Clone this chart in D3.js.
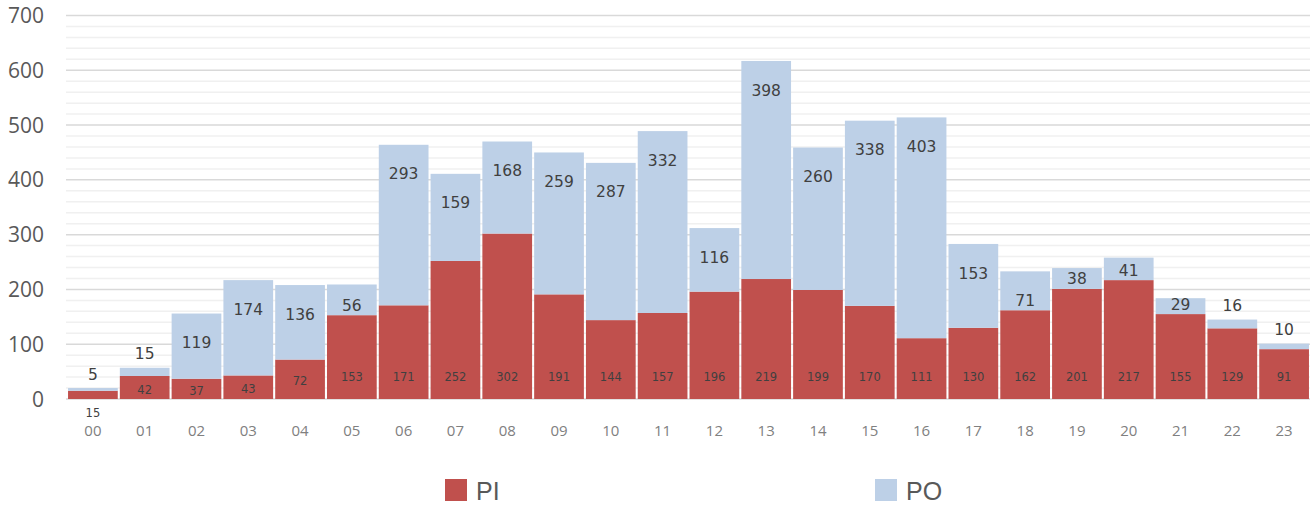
<!DOCTYPE html>
<meta charset="utf-8">
<style>
  body { margin: 0; background: #fff; }
  .grid-minor { stroke: #f0f0f0; stroke-width: 1.5px; }
  .grid-major { stroke: #d9d9d9; stroke-width: 1.5px; }
  .ylab { font: 21px "Open Sans", sans-serif; fill: #595959; }
  .xlab { font: 15px "Open Sans", sans-serif; fill: #808080; }
  .lbl-po { font: 15.5px "DejaVu Sans", sans-serif; fill: #404040; }
  .lbl-pi { font: 11.5px "DejaVu Sans", sans-serif; fill: #404040; }
  .legend text { font: 25px "Liberation Sans", sans-serif; fill: #595959; }
</style>
<body>
<script src="https://d3js.org/d3.v7.min.js"></script>
<script>

  // hours on the x axis
  var hours = ["00","01","02","03","04","05","06","07","08","09","10","11",
               "12","13","14","15","16","17","18","19","20","21","22","23"];
  // series values
  var PI = [15,42,37,43,72,153,171,252,302,191,144,157,196,219,199,170,111,130,162,201,217,155,129,91];
  var PO = [5,15,119,174,136,56,293,159,168,259,287,332,116,398,260,338,403,153,71,38,41,29,16,10];
  var seriesNames = ["PI", "PO"];
  var colors = ["#c0504d", "#bdd0e7"];
  var yTicks = [0,100,200,300,400,500,600,700];

  var rows = hours.map(function (h, i) { return { hour: h, PI: PI[i], PO: PO[i] }; });

  var W = 1316, H = 506;
  var margin = { top: 15.5, right: 6, bottom: 107, left: 67 };

  var svg = d3.select("body").append("svg")
    .attr("width", W).attr("height", H);

  var x = d3.scaleBand()
    .domain(hours)
    .range([margin.left, W - margin.right])
    .paddingInner(0.04)
    .paddingOuter(0.02);

  var y = d3.scaleLinear()
    .domain([0, 700])
    .range([H - margin.bottom, margin.top]);

  // minor gridlines every 20
  svg.append("g").selectAll("line")
    .data(d3.range(0, 701, 20).filter(function (v) { return v % 100 !== 0; }))
    .enter().append("line")
    .attr("class", "grid-minor")
    .attr("x1", margin.left - 1).attr("x2", W - margin.right)
    .attr("y1", function (d) { return y(d); }).attr("y2", function (d) { return y(d); });

  // major gridlines
  svg.append("g").selectAll("line")
    .data(yTicks)
    .enter().append("line")
    .attr("class", "grid-major")
    .attr("x1", margin.left - 1).attr("x2", W - margin.right)
    .attr("y1", function (d) { return y(d); }).attr("y2", function (d) { return y(d); });

  // y labels
  svg.append("g").selectAll("text")
    .data(yTicks)
    .enter().append("text")
    .attr("class", "ylab")
    .attr("x", 44)
    .attr("y", function (d) { return y(d); })
    .attr("dy", "0.36em")
    .attr("text-anchor", "end")
    .text(function (d) { return d; });

  // stacked bars
  var stack = d3.stack().keys(seriesNames)(rows);

  var layers = svg.append("g").selectAll("g")
    .data(stack)
    .enter().append("g")
    .attr("fill", function (d, i) { return colors[i]; });

  layers.selectAll("rect")
    .data(function (d) { return d; })
    .enter().append("rect")
    .attr("x", function (d) { return x(d.data.hour); })
    .attr("width", x.bandwidth())
    .attr("y", function (d) { return y(d[1]); })
    .attr("height", function (d) { return y(d[0]) - y(d[1]); });

  // x labels
  svg.append("g").selectAll("text")
    .data(hours)
    .enter().append("text")
    .attr("class", "xlab")
    .attr("x", function (d) { return x(d) + x.bandwidth() / 2; })
    .attr("y", 431)
    .attr("dy", "0.36em")
    .attr("text-anchor", "middle")
    .text(function (d) { return d; });

  // PI labels: near the bottom, centred when the segment is short, below the axis when tiny
  svg.append("g").selectAll("text")
    .data(stack[0])
    .enter().append("text")
    .attr("class", "lbl-pi")
    .attr("x", function (d) { return x(d.data.hour) + x.bandwidth() / 2; })
    .attr("y", function (d) {
      var top = y(d[1]), bot = y(d[0]), h = bot - top;
      if (h < 12) return bot + 14;
      return Math.max(bot - 22, (top + bot) / 2 + 2);
    })
    .attr("dy", "0.36em")
    .attr("text-anchor", "middle")
    .text(function (d) { return d.data.PI; });

  // PO labels: inside near the top, above the bar when the segment is tiny
  svg.append("g").selectAll("text")
    .data(stack[1])
    .enter().append("text")
    .attr("class", "lbl-po")
    .attr("x", function (d) { return x(d.data.hour) + x.bandwidth() / 2; })
    .attr("y", function (d) {
      var top = y(d[1]), bot = y(d[0]), h = bot - top;
      if (h < 9) return top - 14;
      return top + Math.min(29, h - 10);
    })
    .attr("dy", "0.36em")
    .attr("text-anchor", "middle")
    .text(function (d) { return d.data.PO; });

  // legend
  var legend = svg.append("g").attr("class", "legend")
    .selectAll("g")
    .data(seriesNames)
    .enter().append("g")
    .attr("transform", function (d, i) { return "translate(" + (445 + i * 430) + ",479)"; });

  legend.append("rect")
    .attr("width", 22).attr("height", 22)
    .attr("fill", function (d, i) { return colors[i]; });

  legend.append("text")
    .attr("x", 31).attr("y", 20.5)
    .text(function (d) { return d; });

</script>
</body>
